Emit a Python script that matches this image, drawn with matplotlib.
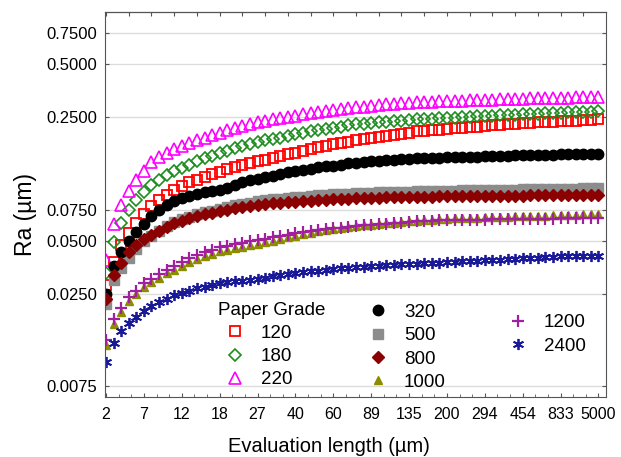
import numpy as np
import matplotlib
matplotlib.use('Agg')
import matplotlib.pyplot as plt

plt.rcParams['font.family'] = ['Liberation Sans', 'DejaVu Sans']

# x is categorical: one position per evaluation length, labelled every 5th point
TICK_LABELS = ['2', '7', '12', '18', '27', '40', '60', '89', '135', '200',
               '294', '454', '833', '5000']
Y_TICKS = [0.0075, 0.025, 0.05, 0.075, 0.25, 0.5, 0.75]

ra_120 = [0.028, 0.038, 0.047, 0.055, 0.063, 0.071, 0.079, 0.085, 0.091, 0.097,
          0.102, 0.107, 0.111, 0.115, 0.119, 0.123, 0.127, 0.131, 0.134, 0.137,
          0.141, 0.144, 0.148, 0.151, 0.155, 0.158, 0.162, 0.166, 0.170, 0.173,
          0.176, 0.179, 0.182, 0.185, 0.188, 0.190, 0.193, 0.195, 0.198, 0.201,
          0.205, 0.208, 0.210, 0.212, 0.213, 0.215, 0.217, 0.219, 0.221, 0.222,
          0.224, 0.225, 0.227, 0.228, 0.230, 0.231, 0.232, 0.234, 0.235, 0.236,
          0.237, 0.239, 0.240, 0.241, 0.242, 0.244]
ra_180 = [0.033, 0.049, 0.063, 0.075, 0.085, 0.094, 0.103, 0.111, 0.118, 0.124,
          0.129, 0.135, 0.141, 0.147, 0.152, 0.157, 0.162, 0.167, 0.172, 0.177,
          0.181, 0.185, 0.189, 0.192, 0.196, 0.200, 0.204, 0.208, 0.212, 0.215,
          0.219, 0.222, 0.225, 0.228, 0.230, 0.232, 0.234, 0.236, 0.238, 0.240,
          0.242, 0.244, 0.245, 0.246, 0.247, 0.248, 0.249, 0.250, 0.252, 0.253,
          0.254, 0.256, 0.257, 0.258, 0.259, 0.260, 0.261, 0.263, 0.264, 0.265,
          0.266, 0.267, 0.268, 0.269, 0.270, 0.272]
ra_220 = [0.039, 0.062, 0.080, 0.096, 0.110, 0.125, 0.140, 0.150, 0.158, 0.166,
          0.172, 0.179, 0.186, 0.192, 0.198, 0.204, 0.211, 0.217, 0.223, 0.229,
          0.234, 0.239, 0.244, 0.248, 0.252, 0.256, 0.260, 0.264, 0.268, 0.271,
          0.275, 0.278, 0.282, 0.285, 0.288, 0.291, 0.293, 0.296, 0.298, 0.301,
          0.303, 0.305, 0.306, 0.307, 0.308, 0.309, 0.310, 0.311, 0.312, 0.313,
          0.314, 0.315, 0.316, 0.317, 0.318, 0.319, 0.320, 0.321, 0.322, 0.323,
          0.324, 0.324, 0.325, 0.326, 0.326, 0.327]
ra_320 = [0.025, 0.036, 0.043, 0.050, 0.056, 0.062, 0.069, 0.075, 0.080, 0.084,
          0.087, 0.090, 0.092, 0.094, 0.096, 0.097, 0.100, 0.104, 0.107, 0.110,
          0.112, 0.115, 0.117, 0.120, 0.122, 0.124, 0.126, 0.128, 0.130, 0.132,
          0.133, 0.135, 0.137, 0.138, 0.139, 0.141, 0.142, 0.143, 0.144, 0.145,
          0.146, 0.147, 0.147, 0.148, 0.148, 0.149, 0.149, 0.150, 0.150, 0.150,
          0.151, 0.151, 0.152, 0.152, 0.153, 0.153, 0.153, 0.154, 0.154, 0.154,
          0.155, 0.155, 0.155, 0.156, 0.156, 0.156]
ra_500 = [0.0219, 0.0298, 0.0349, 0.0400, 0.0447, 0.0495, 0.0535, 0.0570, 0.0606, 0.0638,
          0.0663, 0.0685, 0.0706, 0.0728, 0.0741, 0.0761, 0.0778, 0.0793, 0.0807, 0.0822,
          0.0835, 0.0847, 0.0857, 0.0866, 0.0875, 0.0883, 0.0890, 0.0897, 0.0903, 0.0909,
          0.0915, 0.0920, 0.0924, 0.0928, 0.0932, 0.0936, 0.0939, 0.0942, 0.0944, 0.0946,
          0.0948, 0.0951, 0.0953, 0.0955, 0.0957, 0.0959, 0.0961, 0.0963, 0.0965, 0.0967,
          0.0969, 0.0970, 0.0972, 0.0974, 0.0975, 0.0977, 0.0978, 0.0980, 0.0981, 0.0983,
          0.0984, 0.0986, 0.0987, 0.0989, 0.0990, 0.0992]
ra_800 = [0.0235, 0.0320, 0.0375, 0.0430, 0.0470, 0.0510, 0.0540, 0.0570, 0.0600, 0.0630,
          0.0650, 0.0670, 0.0690, 0.0710, 0.0720, 0.0735, 0.0750, 0.0762, 0.0773, 0.0785,
          0.0795, 0.0805, 0.0813, 0.0820, 0.0827, 0.0833, 0.0839, 0.0845, 0.0850, 0.0855,
          0.0859, 0.0863, 0.0867, 0.0870, 0.0873, 0.0876, 0.0878, 0.0880, 0.0882, 0.0884,
          0.0886, 0.0888, 0.0889, 0.0890, 0.0891, 0.0892, 0.0893, 0.0894, 0.0895, 0.0896,
          0.0897, 0.0898, 0.0899, 0.0900, 0.0901, 0.0902, 0.0903, 0.0904, 0.0905, 0.0906,
          0.0907, 0.0908, 0.0909, 0.0910, 0.0911, 0.0912]
ra_1000 = [0.0128, 0.0169, 0.0197, 0.0228, 0.0248, 0.0272, 0.0290, 0.0308, 0.0326, 0.0343,
           0.0360, 0.0380, 0.0396, 0.0410, 0.0423, 0.0435, 0.0445, 0.0454, 0.0463, 0.0470,
           0.0479, 0.0489, 0.0499, 0.0510, 0.0522, 0.0534, 0.0545, 0.0555, 0.0565, 0.0573,
           0.0582, 0.0590, 0.0598, 0.0604, 0.0610, 0.0616, 0.0622, 0.0627, 0.0633, 0.0639,
           0.0645, 0.0650, 0.0655, 0.0659, 0.0663, 0.0666, 0.0669, 0.0671, 0.0674, 0.0676,
           0.0678, 0.0680, 0.0682, 0.0684, 0.0686, 0.0688, 0.0690, 0.0692, 0.0694, 0.0696,
           0.0698, 0.0700, 0.0702, 0.0704, 0.0705, 0.0707]
ra_1200 = [0.0137, 0.0180, 0.0208, 0.0240, 0.0261, 0.0286, 0.0305, 0.0324, 0.0343, 0.0361,
           0.0379, 0.0400, 0.0417, 0.0432, 0.0445, 0.0458, 0.0468, 0.0478, 0.0487, 0.0495,
           0.0504, 0.0513, 0.0522, 0.0532, 0.0542, 0.0551, 0.0560, 0.0568, 0.0576, 0.0582,
           0.0588, 0.0594, 0.0600, 0.0605, 0.0610, 0.0615, 0.0620, 0.0624, 0.0629, 0.0634,
           0.0639, 0.0643, 0.0646, 0.0649, 0.0651, 0.0653, 0.0655, 0.0656, 0.0657, 0.0658,
           0.0659, 0.0660, 0.0661, 0.0662, 0.0663, 0.0664, 0.0664, 0.0665, 0.0666, 0.0667,
           0.0669, 0.0670, 0.0672, 0.0673, 0.0675, 0.0676]
ra_2400 = [0.0102, 0.0131, 0.0153, 0.0171, 0.0185, 0.0199, 0.0213, 0.0225, 0.0234, 0.0245,
           0.0253, 0.0261, 0.0268, 0.0274, 0.0280, 0.0286, 0.0290, 0.0294, 0.0297, 0.0301,
           0.0304, 0.0309, 0.0314, 0.0319, 0.0324, 0.0328, 0.0331, 0.0335, 0.0338, 0.0342,
           0.0345, 0.0348, 0.0351, 0.0354, 0.0357, 0.0359, 0.0361, 0.0363, 0.0365, 0.0367,
           0.0369, 0.0371, 0.0372, 0.0374, 0.0376, 0.0378, 0.0380, 0.0382, 0.0384, 0.0386,
           0.0388, 0.0389, 0.0391, 0.0393, 0.0395, 0.0397, 0.0399, 0.0401, 0.0403, 0.0405,
           0.0407, 0.0408, 0.0409, 0.0410, 0.0411, 0.0412]

x = np.arange(len(ra_120))

fig = plt.figure(figsize=(6.21, 4.57), dpi=100)
ax = fig.add_axes([0.1683, 0.1313, 0.8076, 0.8425])

kw = dict(ls='none')
h120, = ax.plot(x, ra_120, marker='s', ms=6.8, mfc='none', mec='#ff0000', mew=1.3, **kw)
h180, = ax.plot(x, ra_180, marker='D', ms=5.8, mfc='none', mec='#1e8c1e', mew=1.2, **kw)
h220, = ax.plot(x, ra_220, marker='^', ms=8, mfc='none', mec='#ff00ff', mew=1.2, **kw)
h500, = ax.plot(x, ra_500, marker='s', ms=7, mfc='#8c8c8c', mec='#8c8c8c', **kw)
h320, = ax.plot(x, ra_320, marker='o', ms=7.5, mfc='black', mec='black', **kw)
h800, = ax.plot(x, ra_800, marker='D', ms=6.3, mfc='#8b0000', mec='#8b0000', **kw)
h1000, = ax.plot(x, ra_1000, marker='^', ms=6, mfc='#8c8c00', mec='#8c8c00', **kw)
h1200, = ax.plot(x, ra_1200, marker='+', ms=9, mec='#a020a0', mew=1.6, **kw)
h2400, = ax.plot(x, ra_2400, marker=(6, 2, 0), ms=8, mec='#1a1a99', mew=1.3, **kw)

ax.set_yscale('log')
ax.set_ylim(0.0065, 0.99)
ax.set_xlim(-0.2, 66.0)
ax.set_yticks(Y_TICKS)
ax.set_yticklabels([f'{v:.4f}' for v in Y_TICKS])
ax.yaxis.set_minor_locator(matplotlib.ticker.NullLocator())
ax.set_xticks(x[::5])
ax.set_xticklabels(TICK_LABELS)
ax.set_xticks(np.arange(0, 66, 5 / 3), minor=True)

ax.yaxis.grid(True, color='#dcdcdc', lw=1)
ax.set_axisbelow(True)
ax.tick_params(axis='both', which='both', direction='in', length=3,
               color='#555555', right=True)
ax.tick_params(axis='x', which='minor', length=2)
ax.tick_params(axis='y', pad=5, labelsize=12)
ax.tick_params(axis='x', pad=7, labelsize=11.5)
for s in ax.spines.values():
    s.set_color('#555555')

top = ax.secondary_xaxis('top')
top.set_xticks(np.arange(0, 66, 3))
top.tick_params(direction='in', length=3, labeltop=False, color='#555555')

ax.set_ylabel('Ra (µm)', fontsize=16.5)
ax.yaxis.set_label_coords(-0.135, 0.475)
ax.set_xlabel('Evaluation length (µm)', fontsize=14.5)
ax.xaxis.set_label_coords(0.448, -0.105)

leg_kw = dict(loc='upper left', frameon=False, fontsize=13.5, handlelength=1.8,
              handletextpad=0.5, labelspacing=0.33, borderpad=0, borderaxespad=0)
leg1 = ax.legend([h120, h180, h220], ['120', '180', '220'], title='Paper Grade',
                 title_fontsize=13.5, alignment='left',
                 bbox_to_anchor=(0.226, 0.248), **leg_kw)
ax.add_artist(leg1)
leg2 = ax.legend([h320, h500, h800, h1000], ['320', '500', '800', '1000'],
                 bbox_to_anchor=(0.511, 0.242), **leg_kw)
ax.add_artist(leg2)
ax.legend([h1200, h2400], ['1200', '2400'], bbox_to_anchor=(0.79, 0.215), **leg_kw)

fig.savefig('out.png', dpi=100)
